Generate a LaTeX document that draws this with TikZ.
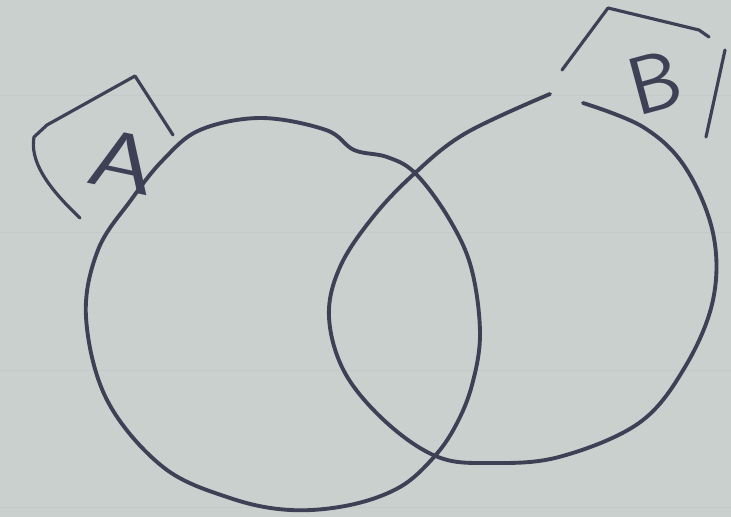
\documentclass[tikz,border=0pt]{standalone}
\usepackage{xcolor}
\usepackage{tikz}
\usetikzlibrary{positioning, calc}
\definecolor{paper}{RGB}{201, 208, 205}
\definecolor{gridgray}{RGB}{195, 202, 199}
\definecolor{pencil}{RGB}{62, 65, 86}

\begin{document}
\begin{tikzpicture}[x=0.03cm, y=-0.03cm,
    stroke/.style={draw=pencil, line width=3.3pt, line cap=round, line join=round},
    tag/.style={draw=pencil, line width=2.7pt, line cap=round, line join=round},
    letter/.style={text=pencil, font=\sffamily\fontsize{70}{70}\selectfont, inner sep=0pt}]
  \fill[paper] (0,0) rectangle (731,517);
  \useasboundingbox (0,0) rectangle (731,517);
  % faint squares of the paper
  \foreach \y in {95,232,370,507} \draw[gridgray, line width=0.8pt] (0,\y) -- (731,\y);
  % set A
  \draw[stroke] plot[smooth cycle, tension=0.6] coordinates {
    (261,118) (326,130) (354,150) (387,157) (415,173) (448,217) (471,267)
    (480,333) (472,385) (456,425) (434,457) (400,487) (350,505) (290,510)
    (230,498) (163,467) (107,400) (86,317) (98,250) (131,200) (163,160) (200,130)};
  % set B, left open at the top
  \draw[stroke] plot[smooth, tension=0.6] coordinates {
    (583,103) (643,127) (685,167) (713,233) (713,300) (685,367) (639,423)
    (559,457) (490,463) (438,457) (387,423) (345,373) (329,317) (340,267)
    (373,217) (415,173) (466,133) (550,94)};
  % labels
  \draw[tag] (80,218) .. controls (45,185) and (30,160) .. (34,137)
    -- (47,125) -- (135,76) -- (173,135);
  \node[letter, rotate=-12, xscale=1.3] (labA) at (123,162) {A};
  \draw[tag] (562,70) -- (608,8) -- (699,30) -- (709,37);
  \draw[tag] (725,50) -- (706,137);
  \node[letter, rotate=15] (labB) at (655,82) {B};
\end{tikzpicture}
\end{document}
